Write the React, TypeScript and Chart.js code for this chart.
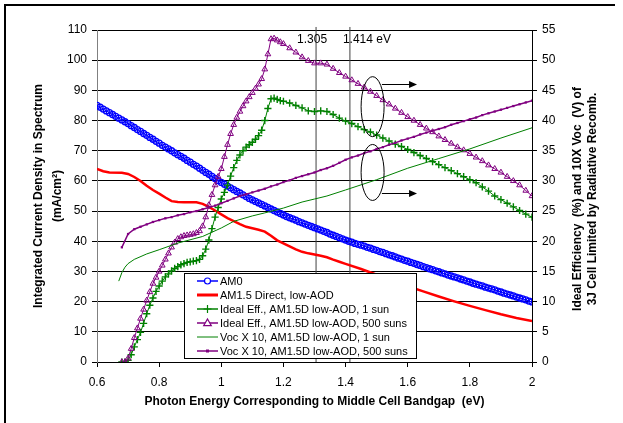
import React, { useEffect, useRef } from 'react';
import { Chart, registerables } from 'chart.js';

Chart.register(...registerables);

const FONT = "'Liberation Sans', Arial, Helvetica, sans-serif";

// Fine photon energy grid (eV) for AM0
const ENERGY_FINE = [
  0.60, 0.61, 0.62, 0.63, 0.64, 0.65, 0.66, 0.67, 0.68, 0.69,
  0.70, 0.71, 0.72, 0.73, 0.74, 0.75, 0.76, 0.77, 0.78, 0.79,
  0.80, 0.81, 0.82, 0.83, 0.84, 0.85, 0.86, 0.87, 0.88, 0.89,
  0.90, 0.91, 0.92, 0.93, 0.94, 0.95, 0.96, 0.97, 0.98, 0.99,
  1.00, 1.01, 1.02, 1.03, 1.04, 1.05, 1.06, 1.07, 1.08, 1.09,
  1.10, 1.11, 1.12, 1.13, 1.14, 1.15, 1.16, 1.17, 1.18, 1.19,
  1.20, 1.21, 1.22, 1.23, 1.24, 1.25, 1.26, 1.27, 1.28, 1.29,
  1.30, 1.31, 1.32, 1.33, 1.34, 1.35, 1.36, 1.37, 1.38, 1.39,
  1.40, 1.41, 1.42, 1.43, 1.44, 1.45, 1.46, 1.47, 1.48, 1.49,
  1.50, 1.51, 1.52, 1.53, 1.54, 1.55, 1.56, 1.57, 1.58, 1.59,
  1.60, 1.61, 1.62, 1.63, 1.64, 1.65, 1.66, 1.67, 1.68, 1.69,
  1.70, 1.71, 1.72, 1.73, 1.74, 1.75, 1.76, 1.77, 1.78, 1.79,
  1.80, 1.81, 1.82, 1.83, 1.84, 1.85, 1.86, 1.87, 1.88, 1.89,
  1.90, 1.91, 1.92, 1.93, 1.94, 1.95, 1.96, 1.97, 1.98, 1.99,
  2.00,
];

// AM0 integrated current density (mA/cm2), left axis
const AM0 = [
  85.0, 84.4, 83.8, 83.2, 82.6, 82.0, 81.4, 80.8, 80.2, 79.6,
  79.0, 78.3, 77.7, 77.0, 76.4, 75.7, 75.1, 74.4, 73.8, 73.1,
  72.5, 71.8, 71.2, 70.6, 70.0, 69.3, 68.7, 68.1, 67.5, 66.8,
  66.2, 65.5, 64.9, 64.2, 63.5, 62.8, 62.2, 61.5, 60.8, 60.1,
  59.5, 58.9, 58.3, 57.7, 57.1, 56.5, 56.0, 55.4, 54.8, 54.2,
  53.7, 53.2, 52.7, 52.2, 51.7, 51.2, 50.7, 50.2, 49.7, 49.2,
  48.7, 48.2, 47.8, 47.4, 47.0, 46.5, 46.1, 45.7, 45.3, 44.9,
  44.5, 44.1, 43.7, 43.3, 42.9, 42.4, 42.0, 41.6, 41.2, 40.8,
  40.4, 40.0, 39.7, 39.3, 39.0, 38.7, 38.4, 38.0, 37.7, 37.3,
  37.0, 36.6, 36.3, 35.9, 35.5, 35.2, 34.8, 34.4, 34.1, 33.7,
  33.4, 33.0, 32.7, 32.3, 32.0, 31.6, 31.3, 30.9, 30.6, 30.2,
  29.9, 29.5, 29.2, 28.8, 28.5, 28.2, 27.9, 27.5, 27.2, 26.8,
  26.5, 26.1, 25.8, 25.5, 25.2, 24.8, 24.5, 24.2, 23.9, 23.5,
  23.2, 22.8, 22.5, 22.2, 21.9, 21.5, 21.2, 20.9, 20.6, 20.2,
  19.9,
];

// Photon energy grid (eV) for the ideal-efficiency series
const EFF_ENERGY = [
  0.68, 0.69, 0.70, 0.71, 0.72, 0.73, 0.74, 0.75, 0.76, 0.77,
  0.78, 0.79, 0.80, 0.81, 0.82, 0.83, 0.84, 0.85, 0.86, 0.87,
  0.88, 0.89, 0.90, 0.91, 0.92, 0.93, 0.94, 0.95, 0.96, 0.97,
  0.98, 0.99, 1.00, 1.01, 1.02, 1.03, 1.04, 1.05, 1.06, 1.07,
  1.08, 1.09, 1.10, 1.11, 1.12, 1.13, 1.14, 1.15, 1.16, 1.17,
  1.18, 1.19, 1.20,
  1.22, 1.24, 1.26, 1.28, 1.30, 1.32, 1.34, 1.36, 1.38,
  1.40, 1.42, 1.44, 1.46, 1.48, 1.50, 1.52, 1.54, 1.56, 1.58,
  1.60, 1.62, 1.64, 1.66, 1.68, 1.70, 1.72, 1.74, 1.76, 1.78,
  1.80, 1.82, 1.84, 1.86, 1.88, 1.90, 1.92, 1.94, 1.96, 1.98,
  2.00,
];

// Ideal efficiency, AM1.5D low-AOD, 1 sun (%), right axis
const EFF_1SUN = [
  0.0, 0.0, 0.3, 1.2, 2.5, 3.7, 4.9, 6.4, 8.0, 9.4,
  10.6, 11.7, 12.6, 13.4, 14.1, 14.6, 15.1, 15.5, 15.8, 16.1,
  16.3, 16.5, 16.6, 16.7, 16.8, 17.0, 17.6, 18.7, 20.2, 22.1,
  24.0, 25.6, 27.0, 28.1, 29.3, 30.8, 32.2, 33.4, 34.3, 35.0,
  35.6, 36.0, 36.4, 36.9, 37.5, 38.4, 40.0, 42.0, 43.6, 43.7,
  43.5, 43.3, 43.2,
  42.9, 42.5, 42.1, 41.6, 41.5, 41.6, 41.5, 41.0, 40.4,
  39.9, 39.5, 39.0, 38.5, 38.1, 37.6, 37.1, 36.6, 36.1, 35.7,
  35.2, 34.7, 34.2, 33.7, 33.2, 32.7, 32.2, 31.7, 31.2, 30.7,
  30.2, 29.7, 29.0, 28.3, 27.5, 26.9, 26.3, 25.7, 25.1, 24.5,
  24.0,
];

// Ideal efficiency, AM1.5D low-AOD, 500 suns (%), right axis
const EFF_500SUN = [
  0.0, 0.0, 0.6, 2.2, 4.0, 5.6, 7.2, 8.7, 10.2, 11.6,
  13.0, 14.0, 15.0, 16.0, 17.0, 18.0, 19.0, 19.8, 20.4, 20.7,
  20.9, 21.0, 21.1, 21.2, 21.4, 21.7, 22.5, 24.0, 26.0, 27.7,
  29.3, 30.7, 32.0, 34.0, 36.0, 37.8, 39.3, 40.5, 41.5, 42.4,
  43.2, 43.9, 44.6, 45.3, 46.0, 46.9, 48.5, 51.0, 53.5, 53.6,
  53.3, 53.0, 52.7,
  52.0, 51.3, 50.5, 49.9, 49.5, 49.5, 49.3, 48.6, 47.9,
  47.3, 46.7, 46.1, 45.5, 44.8, 44.1, 43.4, 42.7, 42.0, 41.3,
  40.6, 40.0, 39.3, 38.7, 38.1, 37.4, 36.8, 36.2, 35.6, 35.1,
  34.5, 33.9, 33.3, 32.6, 32.0, 31.4, 30.7, 30.0, 29.3, 28.4,
  27.5,
];

// Photon energy grid (eV) for Voc x 10 at 500 suns
const VOC500_ENERGY = [
  0.68, 0.70, 0.72, 0.74, 0.76, 0.78,
  0.80, 0.82, 0.84, 0.86, 0.88, 0.90, 0.92, 0.94, 0.96, 0.98,
  1.00, 1.02, 1.04, 1.06, 1.08, 1.10, 1.12, 1.14, 1.16, 1.18,
  1.20, 1.22, 1.24, 1.26, 1.28, 1.30, 1.32, 1.34, 1.36, 1.38,
  1.40, 1.42, 1.44, 1.46, 1.48, 1.50, 1.52, 1.54, 1.56, 1.58,
  1.60, 1.62, 1.64, 1.66, 1.68, 1.70, 1.72, 1.74, 1.76, 1.78,
  1.80, 1.82, 1.84, 1.86, 1.88, 1.90, 1.92, 1.94, 1.96, 1.98,
  2.00,
];

// Voc x 10, AM1.5D low-AOD, 500 suns, right axis
const VOC_500SUN = [
  19.0, 21.2, 22.0, 22.4, 22.8, 23.2,
  23.5, 23.8, 24.0, 24.3, 24.5, 24.8, 25.0, 25.3, 25.6, 25.9,
  26.3, 26.7, 27.1, 27.5, 27.8, 28.1, 28.4, 28.7, 29.1, 29.4,
  29.8, 30.1, 30.5, 30.8, 31.1, 31.4, 31.8, 32.1, 32.5, 33.0,
  33.5, 33.9, 34.2, 34.6, 34.9, 35.3, 35.6, 36.0, 36.3, 36.7,
  37.0, 37.3, 37.7, 38.0, 38.3, 38.6, 38.9, 39.3, 39.6, 39.9,
  40.2, 40.5, 40.9, 41.2, 41.5, 41.8, 42.1, 42.4, 42.7, 43.0,
  43.3,
];

// AM1.5 Direct, low-AOD (mA/cm2), left axis
const AM15_ENERGY = [
  0.60, 0.62, 0.64, 0.68, 0.70, 0.72, 0.74, 0.76, 0.78, 0.80,
  0.82, 0.84, 0.86, 0.88, 0.90, 0.92, 0.94, 0.96, 0.98, 1.00,
  1.02, 1.04, 1.06, 1.08, 1.10, 1.12, 1.14, 1.16, 1.18, 1.20,
  1.22, 1.24, 1.26, 1.28, 1.30, 1.32, 1.34, 1.36, 1.38, 1.40,
  1.45, 1.50, 1.55, 1.60, 1.65, 1.70, 1.75, 1.80, 1.85, 1.90,
  1.95, 2.00,
];
const AM15_DIRECT = [
  64.0, 63.2, 62.8, 62.7, 62.3, 61.3, 60.0, 58.4, 57.0, 55.8,
  54.5, 53.3, 53.0, 52.9, 52.9, 52.9, 52.4, 51.4, 50.2, 48.9,
  47.7, 46.7, 45.7, 44.8, 44.3, 43.8, 43.2, 41.8, 40.3, 39.3,
  38.3, 37.3, 36.5, 36.0, 35.6, 35.2, 34.7, 33.9, 33.2, 32.5,
  30.8, 28.9, 27.0, 25.1, 23.4, 21.7, 20.1, 18.6, 17.2, 15.8,
  14.6, 13.6,
];

// Voc x 10, AM1.5D low-AOD, 1 sun, right axis
const VOC1_ENERGY = [
  0.67, 0.68, 0.69, 0.70, 0.72, 0.76, 0.80, 0.86, 0.94, 1.00,
  1.04, 1.10, 1.14, 1.20, 1.26, 1.30, 1.34, 1.40, 1.50, 1.60,
  1.70, 1.80, 1.90, 2.00,
];
const VOC_1SUN = [
  13.4, 14.8, 15.7, 16.3, 17.0, 17.9, 18.6, 19.7, 20.8, 22.2,
  23.3, 24.2, 24.7, 25.5, 26.5, 27.0, 27.5, 28.5, 30.2, 32.1,
  33.7, 35.3, 37.1, 38.8,
];

const SERIES_LABELS = [
  'AM0',
  'AM1.5 Direct, low-AOD',
  'Ideal Eff., AM1.5D low-AOD, 1 sun',
  'Ideal Eff., AM1.5D low-AOD, 500 suns',
  'Voc X 10, AM1.5D low-AOD, 1 sun',
  'Voc X 10, AM1.5D low-AOD, 500 suns',
];

// Reference bandgap markers (eV)
const MARKER_ENERGIES = [1.305, 1.414];
const MARKER_LABELS = ['1.305', '1.414 eV'];

const X_TITLE = 'Photon Energy Corresponding to Middle Cell Bandgap  (eV)';
const Y_TITLE = ['Integrated Current Density in Spectrum', '(mA/cm²)'];
const Y2_TITLE = ['Ideal Efficiency  (%) and 10X Voc  (V) of', '3J Cell Limited by Radiative Recomb.'];

// Annotation ellipses (center in data units on x / right axis)
const ELLIPSE_CENTERS_X = [1.487, 1.487];
const ELLIPSE_CENTERS_Y = [42.3, 31.4];
const ARROW_FROM_X = 1.517;
const ARROW_TO_X = 1.630;
const ARROW_Y = [46.1, 28.0];

const BLUE = '#0000ff';
const RED = '#ff0000';
const GREEN = '#008000';
const PURPLE = '#800080';

function pairs(xs: number[], ys: number[]) {
  return xs.map((x, i) => ({ x, y: ys[i] }));
}

function drawMarker(ctx: CanvasRenderingContext2D, kind: string, x: number, y: number, color: string) {
  ctx.save();
  ctx.strokeStyle = color;
  ctx.fillStyle = color;
  ctx.lineWidth = 1.2;
  ctx.beginPath();
  if (kind === 'circle') {
    ctx.arc(x, y, 3, 0, Math.PI * 2);
    ctx.fillStyle = '#fff';
    ctx.fill();
    ctx.stroke();
  } else if (kind === 'cross') {
    ctx.moveTo(x - 4, y); ctx.lineTo(x + 4, y);
    ctx.moveTo(x, y - 4); ctx.lineTo(x, y + 4);
    ctx.stroke();
  } else if (kind === 'triangle') {
    ctx.moveTo(x, y - 4); ctx.lineTo(x + 3.8, y + 2.6); ctx.lineTo(x - 3.8, y + 2.6); ctx.closePath();
    ctx.fillStyle = '#fff';
    ctx.fill();
    ctx.stroke();
  } else if (kind === 'rect') {
    ctx.fillRect(x - 1.5, y - 1.5, 3, 3);
  }
  ctx.restore();
}

const decorPlugin = {
  id: 'decor',
  beforeDraw(chart: any) {
    const ctx = chart.ctx as CanvasRenderingContext2D;
    ctx.save();
    ctx.fillStyle = '#fff';
    ctx.fillRect(0, 0, chart.width, chart.height);
    ctx.strokeStyle = '#000';
    ctx.lineWidth = 2;
    ctx.beginPath();
    ctx.moveTo(5, chart.height);
    ctx.lineTo(5, 5);
    ctx.lineTo(615, 5);
    ctx.stroke();
    ctx.restore();
  },
  afterDraw(chart: any) {
    const ctx = chart.ctx as CanvasRenderingContext2D;
    const xs = chart.scales.x;
    const yr = chart.scales.yR;
    const area = chart.chartArea;
    ctx.save();

    // bandgap marker labels
    ctx.fillStyle = '#000';
    ctx.font = `12px ${FONT}`;
    ctx.textBaseline = 'middle';
    ctx.textAlign = 'center';
    ctx.fillText(MARKER_LABELS[0], xs.getPixelForValue(MARKER_ENERGIES[0]) - 4, area.top + 10);
    ctx.textAlign = 'left';
    ctx.fillText(MARKER_LABELS[1], xs.getPixelForValue(MARKER_ENERGIES[1]) - 7, area.top + 10);

    // ellipses and arrows
    ctx.strokeStyle = '#000';
    ctx.lineWidth = 1;
    const radiiY = [30, 28];
    for (let i = 0; i < 2; i++) {
      const cx = xs.getPixelForValue(ELLIPSE_CENTERS_X[i]);
      const cy = yr.getPixelForValue(ELLIPSE_CENTERS_Y[i]);
      ctx.beginPath();
      ctx.ellipse(cx, cy, 11.5, radiiY[i], 0, 0, Math.PI * 2);
      ctx.stroke();
      const ay = Math.round(yr.getPixelForValue(ARROW_Y[i])) + 0.5;
      const ax0 = xs.getPixelForValue(ARROW_FROM_X);
      const ax1 = xs.getPixelForValue(ARROW_TO_X);
      ctx.beginPath();
      ctx.moveTo(ax0, ay);
      ctx.lineTo(ax1 - 6, ay);
      ctx.stroke();
      ctx.beginPath();
      ctx.moveTo(ax1, ay);
      ctx.lineTo(ax1 - 8, ay - 3.5);
      ctx.lineTo(ax1 - 8, ay + 3.5);
      ctx.closePath();
      ctx.fillStyle = '#000';
      ctx.fill();
    }

    // right axis title (reads bottom to top)
    ctx.font = `bold 12px ${FONT}`;
    ctx.fillStyle = '#000';
    ctx.textAlign = 'center';
    ctx.textBaseline = 'middle';
    ctx.save();
    ctx.translate(578, (area.top + area.bottom) / 2 + 3);
    ctx.rotate(-Math.PI / 2);
    ctx.fillText(Y2_TITLE[0], 0, 0);
    ctx.fillText(Y2_TITLE[1], 0, 15);
    ctx.restore();

    // legend
    const bx = 184.5, by = 273.5, bw = 232, bh = 85;
    ctx.fillStyle = '#fff';
    ctx.fillRect(bx, by, bw, bh);
    ctx.strokeStyle = '#000';
    ctx.lineWidth = 1;
    ctx.strokeRect(bx, by, bw, bh);
    const styles = [
      { color: BLUE, width: 1.5, marker: 'circle' },
      { color: RED, width: 3, marker: '' },
      { color: GREEN, width: 1.5, marker: 'cross' },
      { color: PURPLE, width: 1.5, marker: 'triangle' },
      { color: GREEN, width: 1, marker: '' },
      { color: PURPLE, width: 1.5, marker: 'rect' },
    ];
    ctx.font = `11px ${FONT}`;
    ctx.textAlign = 'left';
    ctx.textBaseline = 'middle';
    SERIES_LABELS.forEach((label, i) => {
      const y = 281 + i * 14;
      const st = styles[i];
      ctx.beginPath();
      ctx.strokeStyle = st.color;
      ctx.lineWidth = st.width;
      ctx.moveTo(197, y);
      ctx.lineTo(218, y);
      ctx.stroke();
      if (st.marker) drawMarker(ctx, st.marker, 207.5, y, st.color);
      ctx.fillStyle = '#000';
      ctx.fillText(label, 220, y + 0.5);
    });

    ctx.restore();
  },
};

export default function App() {
  const canvasRef = useRef<HTMLCanvasElement | null>(null);

  useEffect(() => {
    document.body.style.margin = '0';
    const canvas = canvasRef.current;
    if (!canvas) return;

    Chart.defaults.font.family = FONT;
    Chart.defaults.font.size = 12;
    Chart.defaults.color = '#000';

    const vline = (e: number) => ({
      label: 'marker',
      data: [{ x: e, y: 0 }, { x: e, y: 111 }],
      yAxisID: 'y',
      borderColor: '#404040',
      borderWidth: 1,
      pointRadius: 0,
      clip: false as any,
      order: 10,
    });

    const chart = new Chart(canvas, {
      type: 'line',
      data: {
        datasets: [
          {
            label: SERIES_LABELS[5],
            data: pairs(VOC500_ENERGY, VOC_500SUN),
            yAxisID: 'yR',
            borderColor: PURPLE,
            borderWidth: 1.5,
            pointStyle: 'rect',
            pointRadius: 1.6,
            pointBackgroundColor: PURPLE,
            pointBorderColor: PURPLE,
            pointBorderWidth: 0,
          },
          {
            label: SERIES_LABELS[4],
            data: pairs(VOC1_ENERGY, VOC_1SUN),
            yAxisID: 'yR',
            borderColor: GREEN,
            borderWidth: 1,
            pointRadius: 0,
          },
          {
            label: SERIES_LABELS[3],
            data: pairs(EFF_ENERGY, EFF_500SUN),
            yAxisID: 'yR',
            borderColor: PURPLE,
            borderWidth: 1,
            pointStyle: 'triangle',
            pointRadius: 3.3,
            pointBorderWidth: 1,
            pointBorderColor: PURPLE,
            pointBackgroundColor: 'rgba(255,255,255,0)',
          },
          {
            label: SERIES_LABELS[2],
            data: pairs(EFF_ENERGY, EFF_1SUN),
            yAxisID: 'yR',
            borderColor: GREEN,
            borderWidth: 1,
            pointStyle: 'cross',
            pointRadius: 3.6,
            pointBorderWidth: 1.4,
            pointBorderColor: GREEN,
          },
          {
            label: SERIES_LABELS[1],
            data: pairs(AM15_ENERGY, AM15_DIRECT),
            yAxisID: 'y',
            borderColor: RED,
            borderWidth: 2.5,
            pointRadius: 0,
          },
          {
            label: SERIES_LABELS[0],
            data: pairs(ENERGY_FINE, AM0),
            yAxisID: 'y',
            borderColor: BLUE,
            borderWidth: 1,
            pointStyle: 'circle',
            pointRadius: 3,
            pointBorderWidth: 1.3,
            pointBorderColor: BLUE,
            pointBackgroundColor: 'rgba(255,255,255,0)',
          },
          vline(MARKER_ENERGIES[0]),
          vline(MARKER_ENERGIES[1]),
        ] as any,
      },
      options: {
        responsive: false,
        animation: false,
        devicePixelRatio: 1,
        layout: { padding: { top: 30, left: 0, right: 0, bottom: 0 } },
        plugins: {
          legend: { display: false },
          tooltip: { enabled: false },
        },
        elements: { line: { tension: 0 } },
        scales: {
          x: {
            type: 'linear',
            min: 0.6,
            max: 2,
            ticks: {
              stepSize: 0.2,
              color: '#000',
              font: { size: 12, family: FONT },
              padding: 8,
              callback: (v: any) => String(Math.round(Number(v) * 10) / 10),
            },
            grid: { drawOnChartArea: false, drawTicks: true, tickLength: 5, color: '#000' },
            border: { color: '#000' },
            title: {
              display: true,
              text: X_TITLE,
              color: '#000',
              font: { size: 12, weight: 'bold', family: FONT },
              padding: { top: 0, bottom: 14 },
            },
            afterFit: (s: any) => { s.height = 61; },
          },
          y: {
            position: 'left',
            min: 0,
            max: 110,
            ticks: { stepSize: 10, color: '#000', font: { size: 12, family: FONT }, padding: 5 },
            grid: { color: '#000', tickLength: 5 },
            border: { color: '#808080' },
            title: {
              display: true,
              text: Y_TITLE,
              color: '#000',
              font: { size: 12, weight: 'bold', family: FONT, lineHeight: 1.6 },
              padding: { top: 29, bottom: 0 },
            },
            afterFit: (s: any) => { s.width = 97; },
          },
          yR: {
            position: 'right',
            min: 0,
            max: 55,
            ticks: { stepSize: 5, color: '#000', font: { size: 12, family: FONT }, padding: 5 },
            grid: { drawOnChartArea: false, tickLength: 5, color: '#000' },
            border: { color: '#000' },
            afterFit: (s: any) => { s.width = 91; },
          },
        },
      } as any,
      plugins: [decorPlugin],
    });

    return () => chart.destroy();
  }, []);

  return (
    <div style={{ width: 623, height: 423 }}>
      <canvas ref={canvasRef} width={623} height={423} />
    </div>
  );
}
